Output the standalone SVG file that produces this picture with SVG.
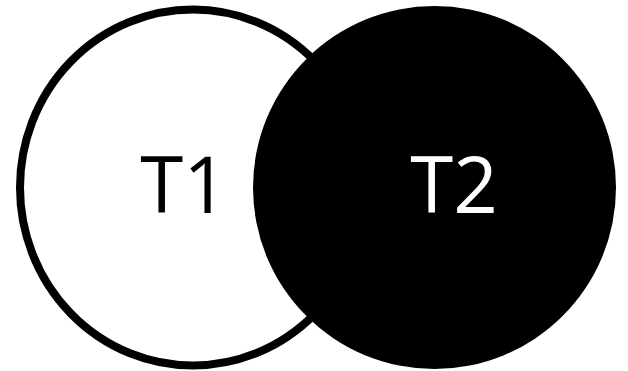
<svg xmlns="http://www.w3.org/2000/svg" width="628" height="371" viewBox="0 0 628 371">
  <style>
    .lbl { font-family: "Open Sans", "DejaVu Sans", sans-serif; font-size: 78px; text-anchor: middle; }
  </style>
  <rect width="628" height="371" fill="#ffffff"/>
  <g id="T1">
    <ellipse cx="193" cy="187.5" rx="173" ry="178" fill="#ffffff" stroke="#000000" stroke-width="8"/>
    <text class="lbl" x="184" y="213" fill="#000000">T1</text>
  </g>
  <g id="T2">
    <ellipse cx="434.5" cy="187.5" rx="181.5" ry="181.5" fill="#000000"/>
    <text class="lbl" x="454" y="213" fill="#ffffff">T2</text>
  </g>
  <g id="connectors"/>
</svg>
